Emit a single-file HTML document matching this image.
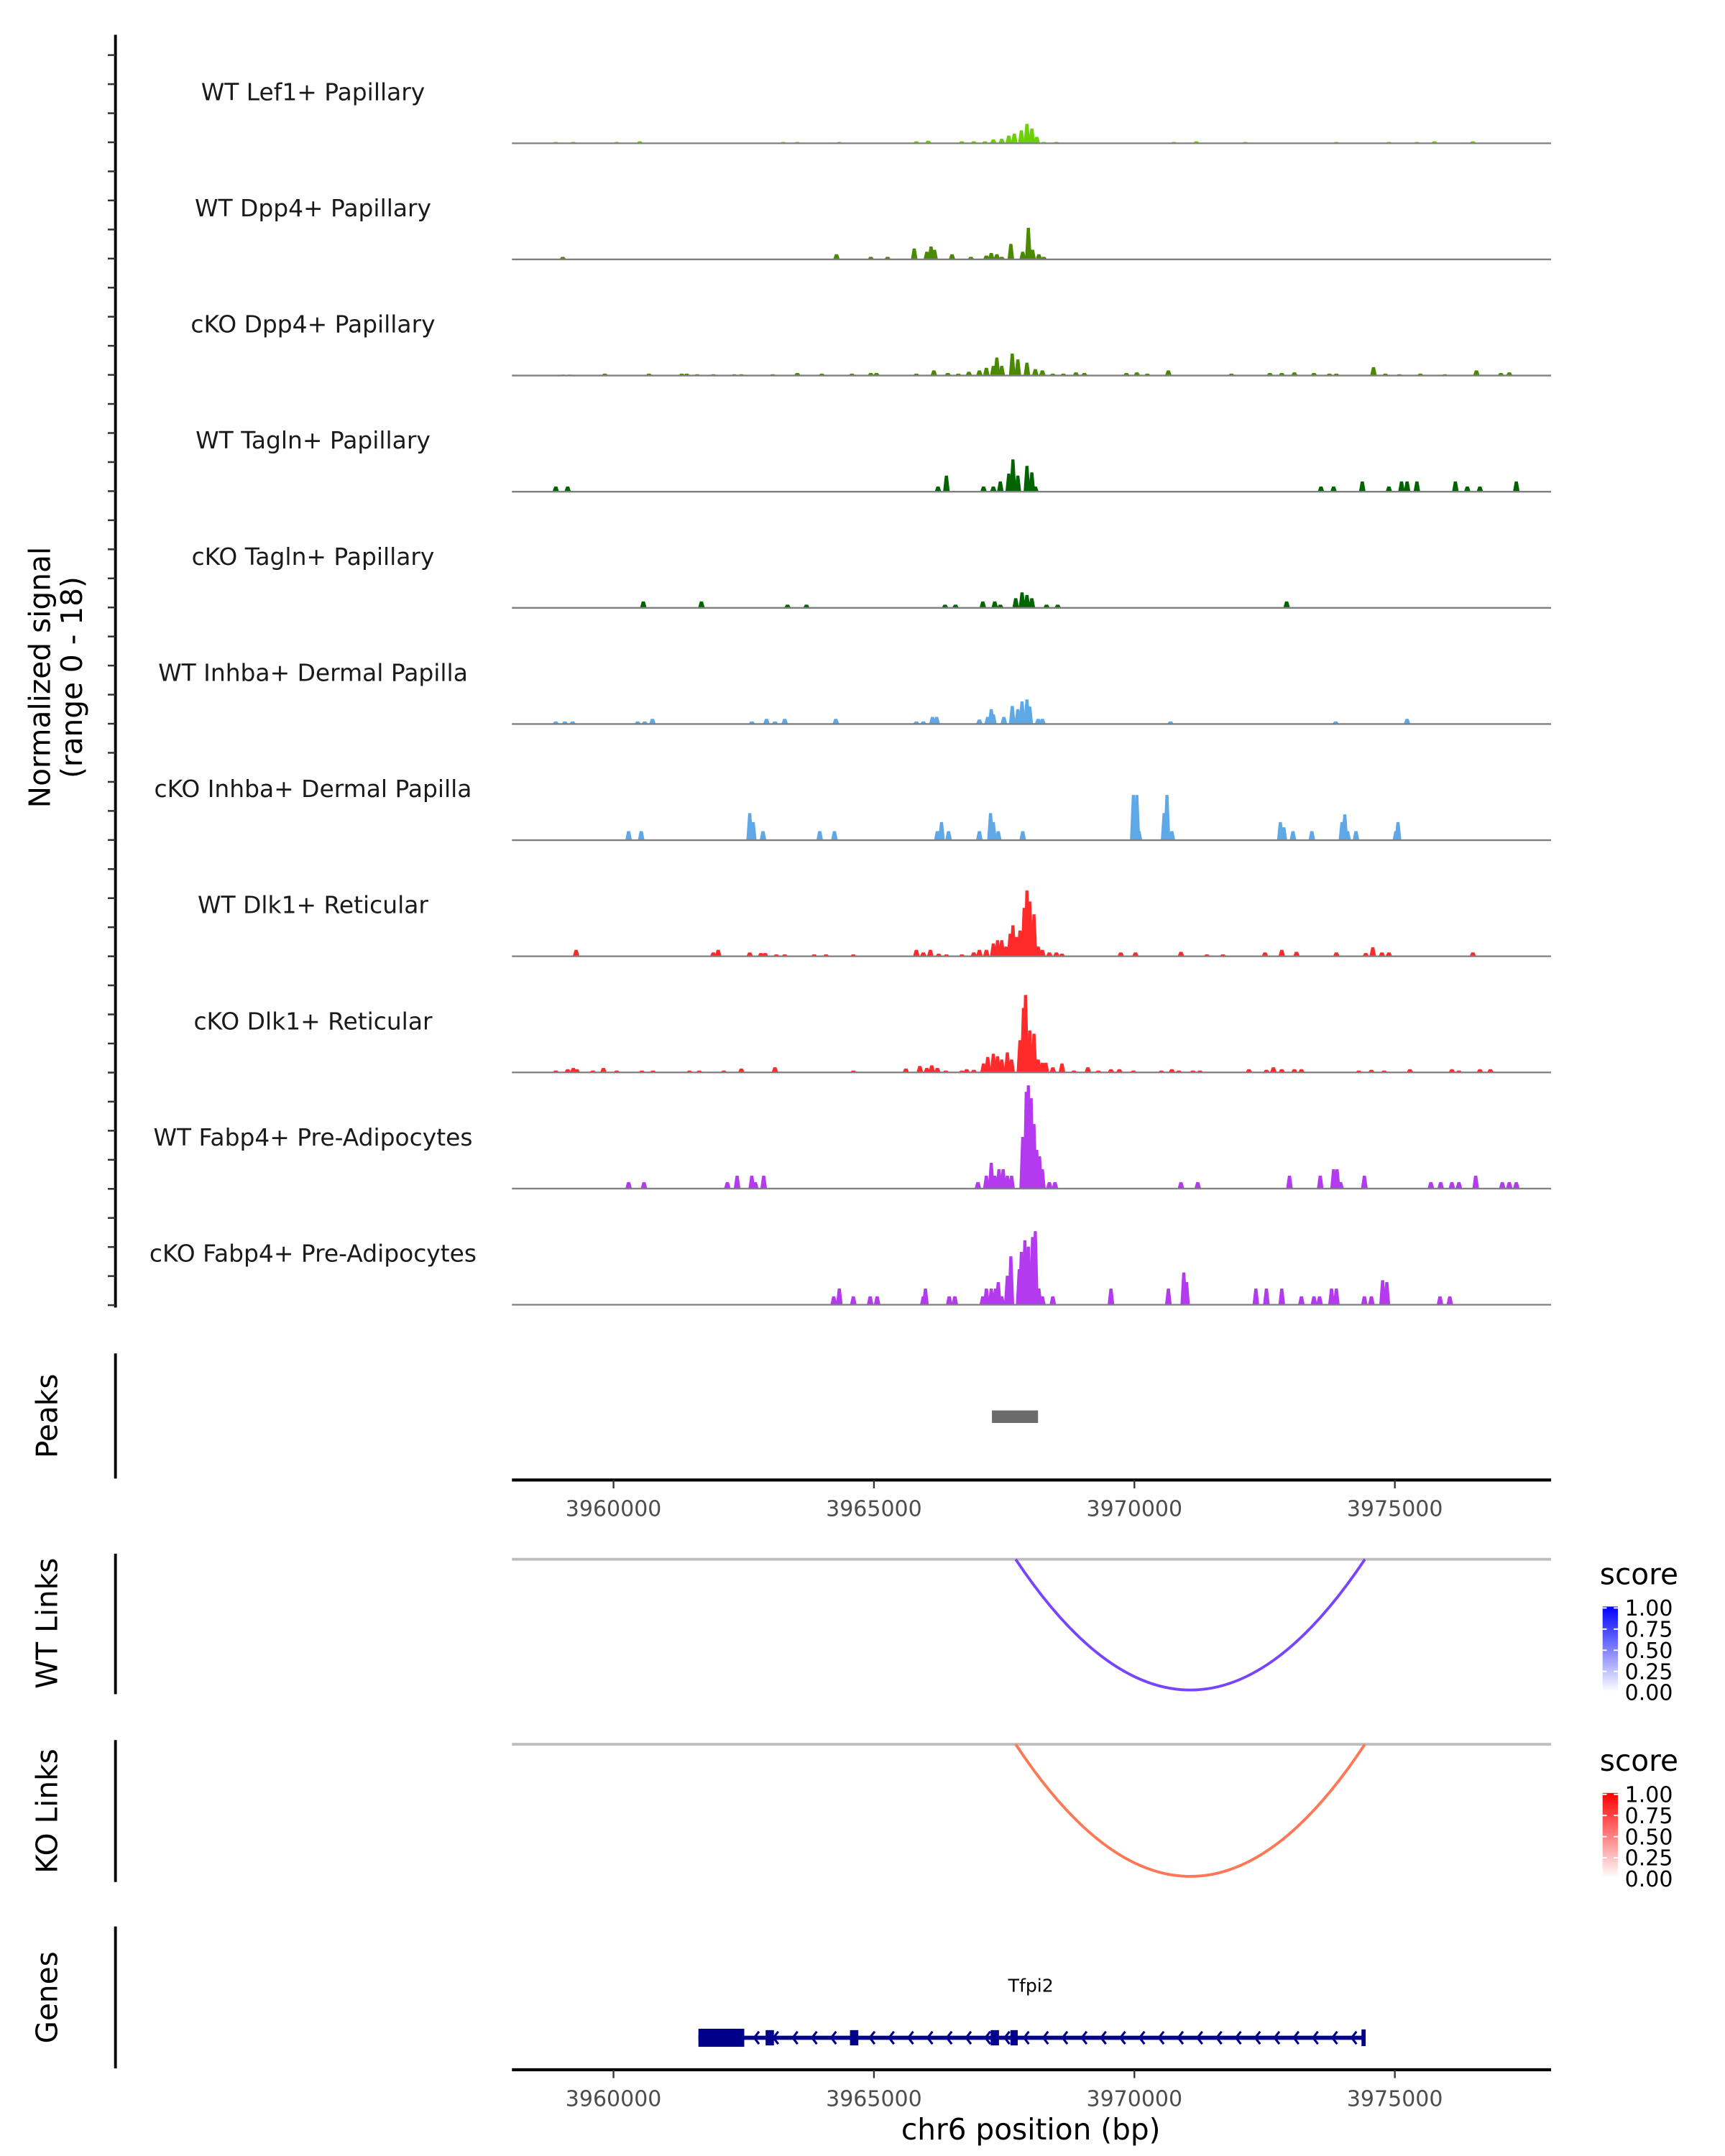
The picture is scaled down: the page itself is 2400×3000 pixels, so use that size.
<!DOCTYPE html>
<html><head><meta charset="utf-8">
<style>
html,body{margin:0;padding:0;background:#fff;}
svg{display:block;font-family:"DejaVu Sans","Liberation Sans",sans-serif;}
</style></head>
<body>
<svg id="chart" width="2400" height="3000" viewBox="0 0 1240 1550" preserveAspectRatio="none" xmlns="http://www.w3.org/2000/svg"></svg>
<script>
// ---- data ----
const trackNames = ["WT Lef1+ Papillary","WT Dpp4+ Papillary","cKO Dpp4+ Papillary","WT Tagln+ Papillary","cKO Tagln+ Papillary","WT Inhba+ Dermal Papilla","cKO Inhba+ Dermal Papilla","WT Dlk1+ Reticular","cKO Dlk1+ Reticular","WT Fabp4+ Pre-Adipocytes","cKO Fabp4+ Pre-Adipocytes"];
const trackColors = ["#6cd100","#4a8a00","#4a8a00","#006400","#006400","#5ea8e8","#5ea8e8","#ff2a2a","#ff2a2a","#b33aee","#b33aee"];
const pos0 = [3958892,3959228,3960061,3960505,3963260,3963529,3964335,3965814,3966042,3966687,3966916,3967131,3967292,3967453,3967588,3967695,3967830,3967937,3968031,3968125,3968260,3968502,3970760,3971190,3972130,3973877,3974886,3975423,3975759,3976498];
const val0 = [0.2,0.2,0.2,0.3,0.2,0.2,0.2,0.3,0.4,0.3,0.3,0.3,0.6,0.7,1.2,1.5,2,3,2.3,1,0.2,0.2,0.2,0.3,0.2,0.2,0.2,0.2,0.3,0.3];
const pos1 = [3959026,3964281,3964940,3965262,3965773,3966015,3966096,3966163,3966499,3966862,3967158,3967252,3967359,3967453,3967628,3967856,3967964,3968045,3968166,3968260];
const val1 = [0.4,0.8,0.4,0.4,1.7,1.2,2,1.5,0.8,0.4,0.6,1,0.8,0.4,2.4,1.2,4.9,1.5,0.8,0.4];
const pos2 = [3959026,3959161,3959833,3960680,3961311,3961405,3961607,3961916,3962319,3962454,3963058,3963529,3963999,3964577,3964940,3965048,3965814,3966150,3966418,3966620,3966822,3967024,3967158,3967292,3967359,3967453,3967655,3967762,3967937,3968098,3968233,3968434,3968636,3968878,3969039,3969846,3970047,3970249,3970652,3971862,3972601,3972829,3973071,3973447,3973743,3973877,3974590,3974818,3975087,3975490,3975961,3976566,3977036,3977197];
const val2 = [0.15,0.15,0.3,0.3,0.3,0.3,0.2,0.2,0.2,0.2,0.2,0.4,0.3,0.3,0.4,0.4,0.3,0.8,0.4,0.3,0.6,0.8,1.2,1.5,2.8,1.5,3.4,2.5,2,1,0.8,0.3,0.3,0.5,0.4,0.4,0.5,0.3,0.8,0.3,0.4,0.4,0.5,0.4,0.3,0.3,1.3,0.3,0.2,0.3,0.2,0.8,0.4,0.5];
const pos3 = [3958892,3959120,3966230,3966391,3967104,3967292,3967426,3967588,3967668,3967762,3967937,3968031,3968098,3973582,3973824,3974375,3974886,3975128,3975235,3975423,3976162,3976391,3976633,3977332];
const val3 = [0.8,0.8,0.8,2.5,0.8,0.8,1.6,2.8,5,2.5,4,3,0.8,0.8,0.8,1.6,0.8,1.6,1.6,1.6,1.6,0.8,0.8,1.6];
const pos4 = [3960572,3961688,3963341,3963704,3966365,3966566,3967090,3967319,3967426,3967722,3967843,3967937,3968031,3968313,3968528,3972923];
const val4 = [1,1,0.5,0.5,0.5,0.5,1,1,0.5,1.5,2.4,2,1.5,0.5,0.5,1];
const pos5 = [3958892,3959067,3959215,3960464,3960599,3960747,3962655,3962937,3963099,3963287,3964268,3965814,3965948,3966123,3966203,3967024,3967184,3967252,3967292,3967494,3967655,3967762,3967843,3967937,3967991,3968152,3968233,3970692,3973864,3975235];
const val5 = [0.4,0.4,0.4,0.4,0.4,0.8,0.4,0.8,0.4,0.8,0.8,0.4,0.4,1.1,1.1,0.7,1.1,2.3,1.5,1.1,2.8,2.3,3.5,3.8,2.7,0.8,0.8,0.4,0.4,0.8];
const pos6 = [3960290,3960532,3962615,3962682,3962870,3963959,3964241,3966217,3966297,3966432,3967024,3967238,3967292,3967386,3967856,3969980,3970047,3970087,3970571,3970625,3970719,3972802,3972869,3973044,3973407,3973985,3974039,3974093,3974254,3975020,3975060];
const val6 = [1.4,1.4,4.2,2.8,1.4,1.4,1.4,1.4,2.8,1.4,1.4,4.2,2.8,1.4,1.4,7,7,1.4,4.2,7,1.4,2.8,2,1.4,1.4,2.8,4,1.4,1.4,1.4,2.8];
const pos7 = [3959282,3961916,3962010,3962615,3962830,3962911,3963126,3963287,3963851,3964080,3964604,3965814,3965948,3966082,3966243,3966391,3966687,3966916,3967024,3967158,3967292,3967373,3967453,3967534,3967615,3967668,3967735,3967803,3967883,3967937,3967991,3968072,3968152,3968233,3968367,3968502,3968609,3969738,3970020,3970894,3971391,3971700,3972507,3972829,3973112,3973877,3974442,3974576,3974751,3974886,3976498];
const val7 = [1,0.6,1,0.6,0.5,0.5,0.3,0.3,0.3,0.3,0.3,1,0.6,1,0.4,0.3,0.3,0.6,1,1,2,2.5,2.5,1.5,3.5,4.8,3,4,7.5,10.2,8.5,6.5,1.5,1,0.6,0.6,0.4,0.6,0.6,0.7,0.3,0.3,0.6,1,0.7,0.6,0.5,1.4,0.6,0.6,0.6];
const pos8 = [3958892,3959120,3959228,3959295,3959604,3959806,3960061,3960545,3960760,3961459,3961647,3962118,3962454,3963099,3964604,3965612,3965881,3966015,3966109,3966217,3966378,3966687,3966781,3966916,3967104,3967184,3967292,3967373,3967453,3967561,3967642,3967803,3967870,3967910,3967991,3968072,3968152,3968233,3968300,3968434,3968609,3968838,3969106,3969308,3969550,3969711,3969980,3970518,3970719,3970854,3971123,3971257,3972198,3972534,3972668,3972829,3973071,3973206,3974308,3974550,3974792,3975289,3976095,3976230,3976633,3976834];
const val8 = [0.3,0.5,0.7,0.5,0.3,0.7,0.3,0.3,0.3,0.3,0.3,0.3,0.6,0.8,0.3,0.6,1,0.7,1.1,0.7,0.3,0.3,0.5,0.4,1.4,2.4,2.9,2.5,2,3.1,2,5,10,12,6.5,6,2,1.5,1.5,0.8,1.4,0.3,0.8,0.3,0.5,0.5,0.3,0.3,0.5,0.3,0.3,0.3,0.5,0.4,0.8,0.5,0.5,0.5,0.3,0.4,0.3,0.5,0.5,0.3,0.5,0.5];
const pos9 = [3960290,3960585,3962185,3962373,3962655,3962722,3962883,3966996,3967158,3967252,3967319,3967400,3967480,3967561,3967642,3967856,3967924,3967964,3968018,3968072,3968125,3968179,3968233,3968367,3968475,3970894,3971216,3972977,3973568,3973824,3973891,3973958,3974415,3975692,3975880,3976095,3976230,3976552,3977063,3977197,3977332];
const val9 = [1,1,1,2,2,1,2,1,2,4,2,3,3,2,2,8,15,16,14,10,6,5,3,1,1,1,1,2,2,3,3,1,2,1,1,1,1,2,1,1,1];
const pos10 = [3964228,3964335,3964604,3964927,3965061,3965948,3965988,3966445,3966553,3967090,3967158,3967252,3967332,3967386,3967453,3967561,3967628,3967789,3967830,3967897,3967964,3968045,3968098,3968166,3968233,3968434,3969550,3970652,3970948,3971001,3972332,3972534,3972829,3973206,3973447,3973555,3973784,3973877,3974415,3974550,3974765,3974846,3975867,3976055];
const val10 = [1.3,2.5,1.3,1.3,1.3,1.3,2.5,1.3,1.3,1.3,2.5,2.5,2.5,3.5,1.3,4.5,7.5,5.5,8.2,10,9,10.5,11.4,2.5,1.3,1.3,2.5,2.5,5,3.5,2.5,2.5,2.5,1.3,1.3,1.3,2.5,2.5,1.3,1.3,3.8,3.5,1.3,1.3];
const trackPos = [pos0,pos1,pos2,pos3,pos4,pos5,pos6,pos7,pos8,pos9,pos10];
const trackVal = [val0,val1,val2,val3,val4,val5,val6,val7,val8,val9,val10];
const xTicks = [3960000,3965000,3970000,3975000];
const tickLabels = ["3960000","3965000","3970000","3975000"];
const peakStart = [3967265];
const peakEnd = [3968150];
const linkStart = [3967720];
const linkEnd = [3974425];
const geneStart = 3961630, geneEnd = 3974400;
const exonStart = [3961630,3962920,3964540,3967240,3967620];
const exonEnd = [3962510,3963080,3964700,3967400,3967760];
const legendTicks = ["1.00","0.75","0.50","0.25","0.00"];

// ---- scales ----
const X0 = 368, X1 = 1115, BP0 = 3958050, BP1 = 3978000;
function xs(bp){ return X0 + (bp - BP0) * (X1 - X0) / (BP1 - BP0); }
const baseFirst = 103, trackStep = 83.5, unitPx = 83.5 / 18;
function ys(i, v){ return baseFirst + i * trackStep - v * unitPx; }

const svg = document.getElementById('chart');
const NS = 'http://www.w3.org/2000/svg';
function mk(tag, attrs, parent){ const e = document.createElementNS(NS, tag); for (const k in attrs) e.setAttribute(k, attrs[k]); (parent||svg).appendChild(e); return e; }

let ax = mk('line', {x1:83,y1:25,x2:83,y2:940,stroke:'#000','stroke-width':2});


for (let k = 0; k < 44; k++) {
  const y = 39.6 + k * 20.9;
  let t = mk('line', {x1:77.5,y1:y,x2:83,y2:y,stroke:'#333','stroke-width':1.3});
  
  
}
let yt = mk('text', {x:0,y:0,'font-size':21,'text-anchor':'middle',fill:'#000',transform:'translate(42,487) rotate(-90)'});


mk('tspan', {x:0,dy:-6}, yt).textContent = 'Normalized signal';
mk('tspan', {x:0,dy:23}, yt).textContent = '(range 0 - 18)';

trackNames.forEach((name, i) => {
  const base = baseFirst + i * trackStep;
  const g = mk('g', {});
  
  
  const lab = mk('text', {x:225,y:base - 31,'font-size':17,'text-anchor':'middle',fill:'#1a1a1a'}, g);
  lab.textContent = name;
  
  
  const P = trackPos[i], V = trackVal[i];
  for (let j = 0; j < P.length; j++) {
    const cx = xs(P[j]), top = ys(i, V[j]);
    const hw = 2.4, tw = 1.1;
    const p = mk('polygon', {points:`${cx-hw},${base} ${cx-tw},${top} ${cx+tw},${top} ${cx+hw},${base}`, fill:trackColors[i]}, g);
    
    
  }
  const bl = mk('line', {x1:X0,y1:base,x2:X1,y2:base,stroke:'#7f7f7f','stroke-width':1.2}, g);
  
  
});

function panelAxis(name, title, y1, y2, ty){
  const l = mk('line', {x1:83,y1:y1,x2:83,y2:y2,stroke:'#000','stroke-width':2});
  
  
  const t = mk('text', {x:0,y:0,'font-size':21,'text-anchor':'middle',fill:'#000',transform:`translate(41,${ty}) rotate(-90)`});
  t.textContent = title;
  
  
}
panelAxis('peaks', 'Peaks', 973, 1063, 1018);
panelAxis('wt-links', 'WT Links', 1117, 1218, 1167);
panelAxis('ko-links', 'KO Links', 1251, 1353, 1302);
panelAxis('genes', 'Genes', 1385, 1487, 1436);

peakStart.forEach((s, i) => {
  const r = mk('rect', {x:xs(s),y:1014,width:xs(peakEnd[i]) - xs(s),height:9,fill:'#6b6b6b'});
  
  
});

function xAxis(y, name){
  const l = mk('line', {x1:X0,y1:y,x2:X1,y2:y,stroke:'#000','stroke-width':2.2});
  
  
  xTicks.forEach((t, i) => {
    const x = xs(t);
    const tk = mk('line', {x1:x,y1:y,x2:x,y2:y + 6,stroke:'#333','stroke-width':1.2});
    
    
    const tl = mk('text', {x:x,y:y + 26,'font-size':15.5,'text-anchor':'middle',fill:'#4d4d4d'});
    tl.textContent = tickLabels[i];
    
    
  });
}
xAxis(1064, 'peaks-x-axis');
xAxis(1488, 'genes-x-axis');
const xt = mk('text', {x:741,y:1538,'font-size':21,'text-anchor':'middle',fill:'#000'});
xt.textContent = 'chr6 position (bp)';



const defs = mk('defs', {});
function gradient(id, col){
  const g = mk('linearGradient', {id:id,x1:0,y1:1,x2:0,y2:0}, defs);
  mk('stop', {offset:0,'stop-color':'#fff'}, g);
  mk('stop', {offset:1,'stop-color':col}, g);
}
gradient('gBlue', '#0000ff');
gradient('gRed', '#ff0000');
function linkPanel(lineY, depth, col, gid, legY, name){
  const bl = mk('line', {x1:X0,y1:lineY,x2:X1,y2:lineY,stroke:'#bebebe','stroke-width':2});
  
  
  linkStart.forEach((s, i) => {
    const a = xs(s), b = xs(linkEnd[i]);
    const p = mk('path', {d:`M${a},${lineY} Q${(a+b)/2},${lineY + 2*depth} ${b},${lineY}`, fill:'none', stroke:col,'stroke-width':2});
    
    
  });
  const st = mk('text', {x:1150,y:legY,'font-size':21,fill:'#000'});
  st.textContent = 'score';
  
  
  const bar = mk('rect', {x:1152,y:legY + 16,width:11,height:61,fill:`url(#${gid})`});
  
  
  legendTicks.forEach((t, i) => {
    const y = legY + 17 + i * 15.2;
    const tl = mk('text', {x:1168,y:y + 5.5,'font-size':15.5,fill:'#000'});
    tl.textContent = t;
    
    
    mk('line', {x1:1152,y1:y,x2:1155,y2:y,stroke:'#fff','stroke-width':1});
    mk('line', {x1:1160,y1:y,x2:1163,y2:y,stroke:'#fff','stroke-width':1});
  });
}
linkPanel(1121, 94, '#7744ff', 'gBlue', 1139, 'wt-links');
linkPanel(1254, 95, '#ff7755', 'gRed', 1273, 'ko-links');

const gy = 1465;
const gl = mk('line', {x1:xs(geneStart),y1:gy,x2:xs(geneEnd),y2:gy,stroke:'#00008b','stroke-width':3});


for (let bp = 3962700; bp < 3974300; bp += 370) {
  const x = xs(bp);
  const a = mk('path', {d:`M${x+3.5},${gy-4.5} L${x},${gy} L${x+3.5},${gy+4.5}`, fill:'none', stroke:'#00008b','stroke-width':1.6});
  
  
}
exonStart.forEach((s, i) => {
  const big = i === 0;
  const r = mk('rect', {x:xs(s),y:big ? gy - 6.5 : gy - 5.5,width:Math.max(xs(exonEnd[i]) - xs(s), 4),height:big ? 13 : 11,fill:'#00008b'});
  
  
});
const ge = mk('line', {x1:xs(geneEnd),y1:gy - 6,x2:xs(geneEnd),y2:gy + 6,stroke:'#00008b','stroke-width':3});


const gn = mk('text', {x:741,y:1432,'font-size':13,'text-anchor':'middle',fill:'#000'});
gn.textContent = 'Tfpi2';


</script>
</body></html>
